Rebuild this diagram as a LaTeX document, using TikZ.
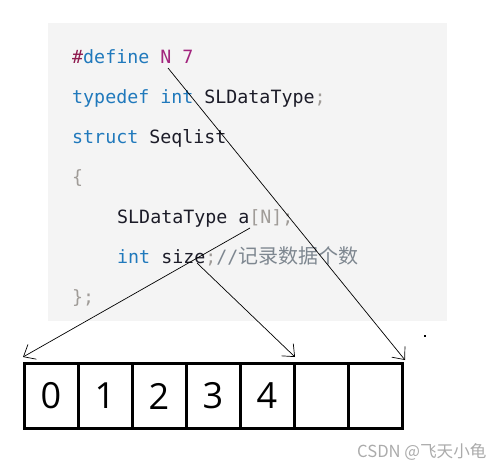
\documentclass[tikz,border=0pt]{standalone}
\usepackage{fontspec}
\setmonofont{DejaVu Sans Mono}
\newfontfamily\cjk{Noto Sans CJK SC}
\newfontfamily\digitfont{Open Sans}
\usetikzlibrary{arrows.meta}
\definecolor{codebg}{HTML}{F4F4F4}
\definecolor{kwc}{HTML}{2079BC}
\definecolor{metac}{HTML}{8E1A4E}
\definecolor{numc}{HTML}{A2257E}
\definecolor{tyc}{HTML}{1C1C28}
\definecolor{punc}{HTML}{A09C98}
\definecolor{cmc}{HTML}{7E8790}
\definecolor{wmc}{HTML}{ABABAB}
\begin{document}
\begin{tikzpicture}[x=1pt,y=-1pt,
  codeline/.style={anchor=base west, inner sep=0pt, font=\ttfamily\fontsize{18.3}{22}\selectfont},
  cell/.style={draw, line width=3pt, minimum width=54pt, minimum height=64.3pt, inner sep=0pt, font=\digitfont\fontsize{36}{40}\selectfont},
  conn/.style={draw, line width=0.7pt, -{Straight Barb[length=10pt,width=17pt,line width=0.7pt]}}]
\useasboundingbox (0,0) rectangle (502,469);
\fill[codebg] (48,23) rectangle (447,321);
\node[codeline] (l1) at (72,63) {\textcolor{metac}{\#}\textcolor{kwc}{define} \textcolor{numc}{N 7}};
\node[codeline] (l2) at (72,103) {\textcolor{kwc}{typedef int} \textcolor{tyc}{SLDataType}\textcolor{punc}{;}};
\node[codeline] (l3) at (72,143) {\textcolor{kwc}{struct} \textcolor{tyc}{Seqlist}};
\node[codeline] (l4) at (72,183) {\textcolor{punc}{\{}};
\node[codeline] (l5) at (117,223) {\textcolor{tyc}{SLDataType a}\textcolor{punc}{[N];}};
\node[codeline] (l6) at (117,263) {\textcolor{kwc}{int} \textcolor{tyc}{size}\textcolor{punc}{;}\textcolor{cmc}{//{\cjk\fontsize{20}{22}\selectfont 记录数据个数}}};
\node[codeline] (l7) at (72,303) {\textcolor{punc}{\};}};
\foreach \i/\t in {0/0,1/1,2/2,3/3,4/4,5/,6/} {
  \node[cell] (c\i) at ({24+54*(\i+0.5)},396) {\t};
}
\coordinate (s1) at (250,228);
\coordinate (t1) at (23,357);
\coordinate (s2) at (197,263);
\coordinate (t2) at (295,357);
\coordinate (s3) at (168,68);
\coordinate (t3) at (405,360);
\draw[conn] (s1) -- (t1);
\draw[conn] (s2) -- (t2);
\draw[conn] (s3) -- (t3);
\fill (424,335) rectangle (426,336.5);
\node[anchor=west, inner sep=0pt, text=wmc, font=\cjk\fontsize{16.6}{18}\selectfont] (wm) at (357,452) {CSDN @飞天小龟};
\end{tikzpicture}
\end{document}
